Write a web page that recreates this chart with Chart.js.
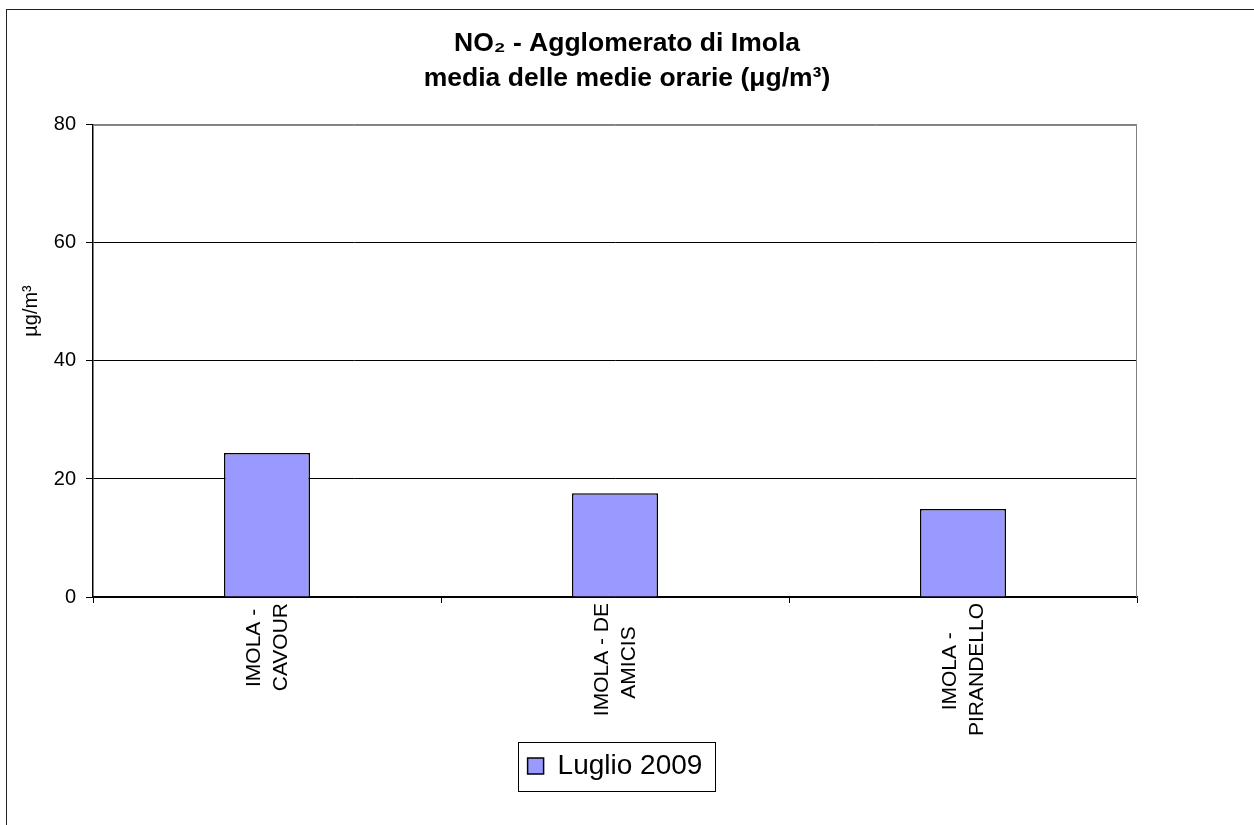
<!DOCTYPE html>
<html>
<head>
<meta charset="utf-8">
<script src="https://cdn.jsdelivr.net/npm/chart.js@4"></script>
<style>
    body { margin: 0; background: #fff; overflow: hidden; }
    #wrap { position: relative; width: 1254px; height: 825px; }
    #frame { position: absolute; left: 6px; top: 9px; width: 1400px; height: 1000px; border: 1.5px solid #222; pointer-events: none; }
</style>
</head>
<body>
<div id="wrap">
    <canvas id="myChart" width="1254" height="825"></canvas>
    <div id="frame"></div>
</div>
<script>

const stations = [
    ['IMOLA -', 'CAVOUR'],
    ['IMOLA - DE', 'AMICIS'],
    ['IMOLA -', 'PIRANDELLO']
];
const seriesName = 'Luglio 2009';
const values = [24.4, 17.6, 14.9];

const titleLines = ['NO\u2082 - Agglomerato di Imola', 'media delle medie orarie (\u03bcg/m\u00b3)'];
const yTitle = '\u00b5g/m\u00b3';

const font = "'Liberation Sans', Arial, sans-serif";
const xFontSize = 21;

// centre the lines of a wrapped, rotated label (Excel style) by padding
// the shorter lines with trailing spaces
const measureCtx = document.createElement('canvas').getContext('2d');
function centreLines(lines) {
    measureCtx.font = xFontSize + 'px ' + font;
    const widths = lines.map(l => measureCtx.measureText(l).width);
    const maxW = Math.max(...widths);
    const spaceW = measureCtx.measureText(' ').width;
    return lines.map((l, i) => l + ' '.repeat(Math.round((maxW - widths[i]) / 2 / spaceW)));
}

// Excel-ish plot frame, y title and legend box
const extras = {
    id: 'extras',
    beforeDatasetsDraw(chart) {
        const a = chart.chartArea;
        const ctx = chart.ctx;
        ctx.save();
        ctx.strokeStyle = '#808080';
        ctx.lineWidth = 1;
        ctx.beginPath();
        ctx.moveTo(a.left, a.top + 0.5);
        ctx.lineTo(a.right - 0.5, a.top + 0.5);
        ctx.lineTo(a.right - 0.5, a.bottom);
        ctx.stroke();
        ctx.restore();
    },
    afterDraw(chart) {
        const ctx = chart.ctx;
        ctx.save();
        ctx.fillStyle = '#000';
        ctx.font = '20px ' + font;
        ctx.translate(31, 311);
        ctx.rotate(-Math.PI / 2);
        ctx.textAlign = 'center';
        ctx.textBaseline = 'middle';
        ctx.fillText(yTitle, 0, 0);
        ctx.restore();

        const hb = chart.legend.legendHitBoxes[0];
        if (hb) {
            ctx.save();
            ctx.strokeStyle = '#000';
            ctx.lineWidth = 1;
            ctx.strokeRect(Math.round(hb.left - 10) + 0.5, Math.round(hb.top - 10) + 0.5,
                Math.round(hb.width + 22), Math.round(hb.height + 21));
            ctx.restore();
        }
    }
};

const data = {
    labels: stations,
    datasets: [{
        label: seriesName,
        data: values,
        backgroundColor: '#9999FF',
        borderColor: '#000',
        borderWidth: 1.5,
        categoryPercentage: 1,
        barPercentage: 0.247
    }]
};

const config = {
    type: 'bar',
    data: data,
    options: {
        responsive: false,
        animation: false,
        layout: {
            padding: { left: 0, right: 0, top: 0, bottom: 35 }
        },
        scales: {
            y: {
                min: 0,
                max: 80,
                ticks: {
                    stepSize: 20,
                    color: '#000',
                    font: { family: font, size: 20 },
                    padding: 10
                },
                grid: {
                    color: (c) => c.tick && c.tick.value === 80 ? '#808080' : '#000',
                    tickColor: '#000',
                    tickLength: 7,
                    lineWidth: 1
                },
                border: { color: '#000', width: 1.5 },
                afterFit(scale) { scale.width = 93; }
            },
            // empty right-hand space of the plot
            yRight: {
                type: 'linear',
                position: 'right',
                display: true,
                grid: { display: false },
                ticks: { display: false },
                border: { display: false },
                afterFit(scale) { scale.width = 117; }
            },
            x: {
                ticks: {
                    color: '#000',
                    font: { family: font, size: xFontSize, lineHeight: 1.3 },
                    maxRotation: 90,
                    minRotation: 90,
                    padding: 0,
                    labelOffset: -13,
                    callback: function(value) {
                        return centreLines(this.getLabelForValue(value));
                    }
                },
                grid: {
                    offset: true,
                    drawOnChartArea: false,
                    drawTicks: true,
                    tickLength: 6,
                    color: '#000'
                },
                border: { color: '#000', width: 1.5 },
                afterFit(scale) { scale.height = 145; }
            }
        },
        plugins: {
            title: {
                display: true,
                text: titleLines,
                color: '#000',
                font: { family: font, size: 26.5, weight: 'bold', lineHeight: 1.32 },
                padding: { top: 26, bottom: 29 }
            },
            legend: {
                display: true,
                position: 'bottom',
                fullSize: false,
                labels: {
                    color: '#000',
                    font: { family: font, size: 28 },
                    boxWidth: 16,
                    boxHeight: 16,
                    padding: 10
                }
            },
            tooltip: { enabled: false }
        }
    },
    plugins: [extras]
};

const myChart = new Chart(
    document.getElementById('myChart'),
    config
);
</script>
</body>
</html>
